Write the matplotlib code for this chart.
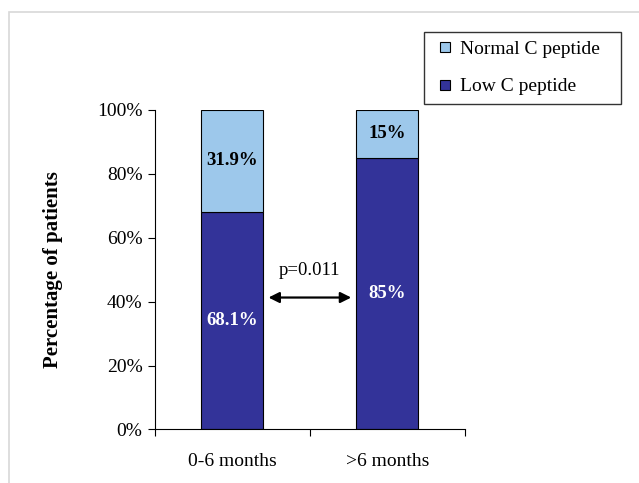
import matplotlib
matplotlib.use("Agg")
import matplotlib.pyplot as plt
from matplotlib.lines import Line2D
from matplotlib.patches import Rectangle
from matplotlib.ticker import PercentFormatter

# Share of patients by duration of diabetes
groups = ["0-6 months", ">6 months"]
low_cpep = [68.1, 85.0]
normal_cpep = [31.9, 15.0]
p_value = "p=0.011"

low_color = "#333399"
normal_color = "#9dc8eb"

plt.rcParams["font.family"] = ["Liberation Serif", "DejaVu Serif"]

fig = plt.figure(figsize=(6.39, 4.83), dpi=100)
ax = fig.add_axes([0.2426, 0.1108, 0.4846, 0.6615])

x = range(len(groups))
ax.bar(x, low_cpep, width=0.4, color=low_color, edgecolor="black", linewidth=0.8)
ax.bar(x, normal_cpep, width=0.4, bottom=low_cpep, color=normal_color,
       edgecolor="black", linewidth=0.8)

# segment labels
for i in x:
    lv, nv = low_cpep[i], normal_cpep[i]
    ax.text(i, lv / 2, f"{lv:g}%", ha="center", va="center", color="white",
            fontsize=13.5, fontweight="bold")
    ax.text(i, lv + nv / 2, f"{nv:g}%", ha="center", va="center", color="black",
            fontsize=13.5, fontweight="bold")

# significance arrow between the bars
ax.annotate("", xy=(0.215, 41.3), xytext=(0.785, 41.3),
            arrowprops=dict(arrowstyle="<|-|>", color="black", lw=1.6,
                            mutation_scale=16))
ax.text(0.5, 47, p_value, ha="center", va="bottom", fontsize=13.5)

ax.set_xlim(-0.5, 1.5)
ax.set_ylim(0, 100)
ax.set_yticks(range(0, 101, 20))
ax.yaxis.set_major_formatter(PercentFormatter(decimals=0))
ax.set_xticks([-0.5, 0.5, 1.5])
ax.set_xticklabels([])
ax.set_xticks(list(x), minor=True)
ax.set_xticklabels(groups, minor=True, fontsize=14)
ax.tick_params(axis="x", which="minor", length=0, pad=17)
ax.tick_params(axis="x", which="major", direction="out", length=5)
ax.tick_params(axis="y", direction="out", length=5, labelsize=14, pad=4)
ax.spines["top"].set_visible(False)
ax.spines["right"].set_visible(False)

ax.set_ylabel("Percentage of patients", fontsize=15, fontweight="bold")
ax.yaxis.set_label_coords(-0.297, 0.5)

# square swatches for the legend
handles = [
    Line2D([], [], linestyle="none", marker="s", markersize=7.5,
           markerfacecolor=normal_color, markeredgecolor="black",
           markeredgewidth=0.8),
    Line2D([], [], linestyle="none", marker="s", markersize=7.5,
           markerfacecolor=low_color, markeredgecolor="black",
           markeredgewidth=0.8),
]
leg = ax.legend(handles, ["Normal C peptide", "Low C peptide"], loc="center left",
                bbox_to_anchor=(424 / 639, 1 - 104 / 483, 197 / 639, 72 / 483),
                bbox_transform=fig.transFigure, mode="expand",
                fancybox=False, edgecolor="black", fontsize=14,
                handlelength=1.3, handletextpad=0.1,
                labelspacing=1.0, borderpad=0.45, borderaxespad=0)
leg.get_frame().set_linewidth(1.0)

# faint outer border of the chart area
fig.add_artist(Rectangle((9 / 639, -0.1), 1.2, 1.1 - 12 / 483,
                         transform=fig.transFigure, fill=False,
                         edgecolor="#d8d8d8", linewidth=1.2))

fig.savefig("out.png", dpi=100)
